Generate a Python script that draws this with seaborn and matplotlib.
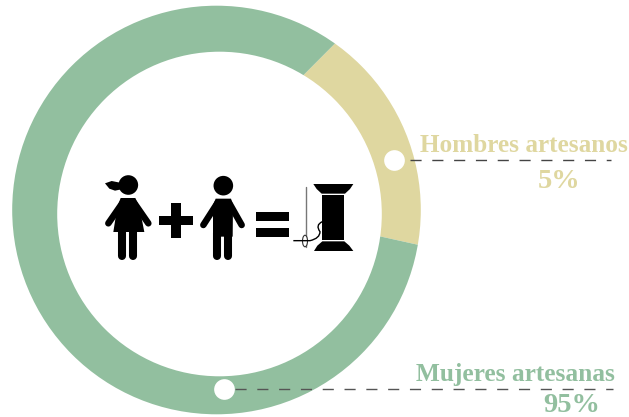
import pandas as pd
import matplotlib.pyplot as plt
from matplotlib.patches import Polygon, Circle, Ellipse, PathPatch
from matplotlib.path import Path
import seaborn as sns

W, H = 629, 417

# data
groups = ["Hombres artesanos", "Mujeres artesanas"]
labels = ["5%", "95%"]
arc_shares = [16, 84]  # as drawn in the ring, not the printed numbers
colors = ["#DFD7A0", "#92BF9F"]

sns.set_theme(style="white")
plt.rcParams['font.family'] = ['Liberation Serif', 'DejaVu Serif']

fig = plt.figure(figsize=(W / 100, H / 100), dpi=100)
ax = fig.add_axes([0, 0, 1, 1])


def Y(py):
    return H - py


# ring: the two dividers meet off-centre, so the pie sits there and is cut by the outer circle
wedges, _ = ax.pie(arc_shares, colors=colors, startangle=-12.5, center=(185.7, Y(193.3)), radius=500,
                   wedgeprops=dict(linewidth=0), frame=True)
ax.set_xlim(0, W)
ax.set_ylim(0, H)
ax.set_aspect("equal")
outer = Circle((216.5, Y(210)), 204.3, transform=ax.transData)
for w in wedges:
    w.set_clip_on(True)
    w.set_clip_path(outer)
ax.add_patch(Circle((219.5, Y(214)), 162.3, fc="white", ec="none", zorder=3))
ax.axis("off")

# leaders and dots
ax.plot([410, 611], [Y(160), Y(160)], color="#444444", lw=1, dashes=(8, 7.7), zorder=5)
ax.plot([235, 613], [Y(389), Y(389)], color="#555555", lw=1, dashes=(8, 7.7), zorder=5)
dots = pd.DataFrame({"x": [394, 224], "y": [Y(160), Y(389)], "group": groups})
sns.scatterplot(data=dots, x="x", y="y", color="white", s=222, linewidth=0, ax=ax, zorder=6, legend=False)
ax.set_xlabel("")
ax.set_ylabel("")

# labels
ax.text(628, Y(152), groups[0], color=colors[0], fontsize=18.2, fontweight="bold", ha="right", va="baseline")
ax.text(559, Y(188), labels[0], color=colors[0], fontsize=20.5, fontweight="bold", ha="center", va="baseline")
ax.text(615, Y(381), groups[1], color=colors[1], fontsize=18.3, fontweight="bold", ha="right", va="baseline")
ax.text(571.5, Y(411.5), labels[1], color=colors[1], fontsize=20.5, fontweight="bold", ha="center", va="baseline")

black = "black"
GIRL = (100, 170)
BOY = (195, 170)
SPOOL = (290, 175)
SIGNS = (90, 160)


def at(base, p):
    return (base[0] + p[0] / 3, Y(base[1] + p[1] / 3))


def limb(base, p0, p1, w=4.7):
    ax.plot(*zip(at(base, p0), at(base, p1)), color=black, lw=w, solid_capstyle="round", zorder=7)


def poly(base, pts):
    ax.add_patch(Polygon([at(base, p) for p in pts], closed=True, fc=black, ec="none", zorder=7))


# girl
ax.add_patch(Circle(at(GIRL, (85, 45)), 9.8, fc=black, ec="none", zorder=7))
poly(GIRL, [(15, 40), (35, 33), (60, 38), (64, 58), (45, 62), (28, 56)])
poly(GIRL, [(62, 84), (106, 84), (118, 110), (133, 186), (40, 186), (52, 110)])
limb(GIRL, (68, 98), (25, 160))
limb(GIRL, (102, 98), (145, 160))
limb(GIRL, (67, 180), (67, 259), 5.8)
limb(GIRL, (100, 180), (100, 259), 5.8)

# boy
ax.add_patch(Circle(at(BOY, (85, 47)), 9.8, fc=black, ec="none", zorder=7))
poly(BOY, [(62, 86), (108, 86), (114, 105), (113, 200), (54, 200), (54, 105)])
limb(BOY, (68, 98), (25, 165))
limb(BOY, (102, 98), (140, 165))
limb(BOY, (67, 190), (67, 259), 5.8)
limb(BOY, (100, 190), (100, 259), 5.8)

# plus and equals
poly(SIGNS, [(208, 168), (243, 168), (243, 130), (272, 130), (272, 168), (308, 168), (308, 196),
             (272, 196), (272, 235), (243, 235), (243, 196), (208, 196)])
poly(SIGNS, [(498, 155), (598, 155), (598, 182), (498, 182)])
poly(SIGNS, [(498, 205), (598, 205), (598, 232), (498, 232)])

# spool
poly(SPOOL, [(70, 27), (190, 27), (180, 42), (165, 56), (95, 56), (80, 42)])
poly(SPOOL, [(97, 59), (163, 59), (163, 196), (97, 196)])
poly(SPOOL, [(97, 199), (163, 199), (178, 212), (190, 228), (72, 228), (82, 212)])

# needle and thread
ax.plot(*zip(at(SPOOL, (47, 35)), at(SPOOL, (47, 215))), color="#777777", lw=1, zorder=8)
ax.add_patch(Ellipse(at(SPOOL, (45, 198)), 5, 11.5, fc="white", ec="#333333", lw=0.8, zorder=8))
thread = Path([at(SPOOL, (10, 197)), at(SPOOL, (60, 197)), at(SPOOL, (90, 190)), at(SPOOL, (90, 170)),
               at(SPOOL, (75, 150)), at(SPOOL, (97, 140))],
              [Path.MOVETO, Path.LINETO, Path.CURVE3, Path.CURVE3, Path.CURVE3, Path.CURVE3])
ax.add_patch(PathPatch(thread, fc="none", ec=black, lw=1, zorder=8))

fig.savefig("out.png", dpi=100)
